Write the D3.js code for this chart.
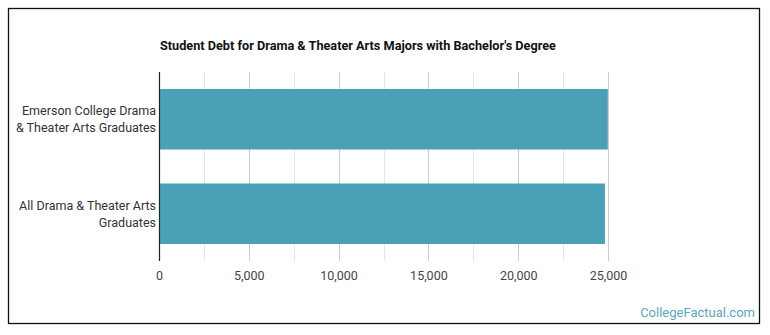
<!DOCTYPE html>
<html>
<head>
<meta charset="utf-8">
<script src="https://cdn.jsdelivr.net/npm/d3@7"></script>
<style>
  html, body { margin: 0; padding: 0; background: #fff; }
  svg { display: block; font-family: Roboto, "Open Sans", sans-serif; }
</style>
</head>
<body>
<svg id="chart" width="770" height="335"></svg>
<script>
const categories = ["Emerson College Drama\n& Theater Arts Graduates", "All Drama & Theater Arts\nGraduates"];
const values = [24990, 24830];
const tickValues = [0, 5000, 10000, 15000, 20000, 25000];
const minorTicks = [2500, 7500, 12500, 17500, 22500];
const titleText = "Student Debt for Drama & Theater Arts Majors with Bachelor's Degree";
const watermark = "CollegeFactual.com";

const svg = d3.select("#chart");
const W = 770, H = 335;
const m = { left: 159, right: 162, top: 72, bottom: 74 };

svg.append("rect")
  .attr("x", 8.5).attr("y", 8.5)
  .attr("width", 751).attr("height", 315)
  .attr("fill", "#fff").attr("stroke", "#111").attr("stroke-width", 1.3);

const x = d3.scaleLinear().domain([0, 25000]).range([m.left, W - m.right]);
const y = d3.scaleBand().domain(categories).range([m.top, H - m.bottom]).paddingInner(0.36).paddingOuter(0.18);

// gridlines
svg.append("g").selectAll("line.minor").data(minorTicks).join("line")
  .attr("x1", d => Math.round(x(d)) + 0.5).attr("x2", d => Math.round(x(d)) + 0.5)
  .attr("y1", m.top).attr("y2", H - m.bottom)
  .attr("stroke", "#e6e6e6").attr("stroke-width", 1);
svg.append("g").selectAll("line.major").data(tickValues.slice(1)).join("line")
  .attr("x1", d => Math.round(x(d)) + 0.5).attr("x2", d => Math.round(x(d)) + 0.5)
  .attr("y1", m.top).attr("y2", H - m.bottom)
  .attr("stroke", "#cccccc").attr("stroke-width", 1);

// bars
svg.append("g").selectAll("rect").data(values).join("rect")
  .attr("x", x(0))
  .attr("y", (d, i) => y(categories[i]))
  .attr("width", d => x(d) - x(0))
  .attr("height", y.bandwidth())
  .attr("fill", "#4aa0b4");

// axis line
svg.append("line")
  .attr("x1", x(0) + 0.5).attr("x2", x(0) + 0.5)
  .attr("y1", m.top).attr("y2", H - m.bottom)
  .attr("stroke", "#222").attr("stroke-width", 1.2);

// x axis
const xAxis = d3.axisBottom(x).tickValues(tickValues).tickFormat(d3.format(",")).tickSize(0).tickPadding(10);
const gx = svg.append("g").attr("transform", `translate(0,${H - m.bottom})`).call(xAxis);
gx.select(".domain").remove();
gx.selectAll("text").attr("font-size", 12.5).attr("fill", "#444").attr("font-family", "Roboto, sans-serif");

// y labels
const gy = svg.append("g");
categories.forEach((c, i) => {
  const lines = c.split("\n");
  const cy = y(c) + y.bandwidth() / 2;
  const t = gy.append("text")
    .attr("x", m.left - 3)
    .attr("y", cy)
    .attr("text-anchor", "end")
    .attr("font-size", 12.5)
    .attr("fill", "#333");
  lines.forEach((l, j) => {
    t.append("tspan")
      .attr("x", m.left - 3)
      .attr("y", cy + (j - (lines.length - 1) / 2) * 17 + 4.5)
      .text(l);
  });
});

// title
svg.append("text")
  .attr("x", 160).attr("y", 49.5)
  .attr("font-size", 12.7)
  .attr("font-weight", "bold")
  .attr("fill", "#111")
  .text(titleText);

// watermark
svg.append("text")
  .attr("x", 755).attr("y", 317)
  .attr("text-anchor", "end")
  .attr("font-size", 13)
  .attr("fill", "#5aa7bd")
  .text(watermark);
</script>
</body>
</html>
